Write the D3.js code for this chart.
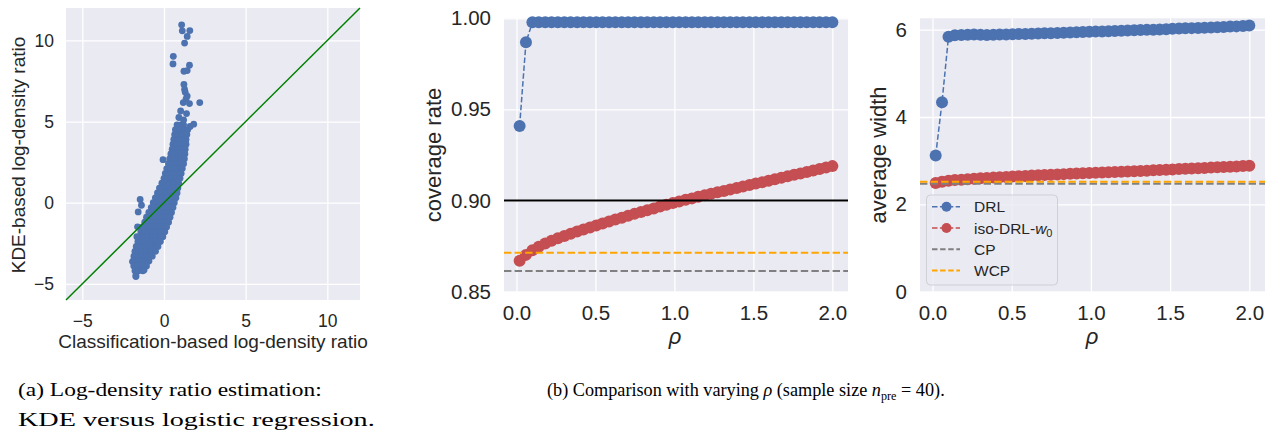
<!DOCTYPE html>
<html>
<head>
<meta charset="utf-8">
<script src="https://cdn.jsdelivr.net/npm/d3@7"></script>
<style>
  body { margin: 0; background: #fff; }
  text { font-family: "Liberation Sans", Arial, sans-serif; fill: #262626; }
</style>
</head>
<body>
<svg id="fig" width="1273" height="434"></svg>
<script>
// ---- data ----
// rho grid (50 values, 0.02 .. 2.0)
var rho = [0.020,0.060,0.101,0.141,0.182,0.222,0.262,0.303,0.343,0.384,0.424,0.465,0.505,0.545,0.586,0.626,0.667,0.707,0.747,0.788,
           0.828,0.869,0.909,0.949,0.990,1.030,1.071,1.111,1.151,1.192,1.232,1.273,1.313,1.353,1.394,1.434,1.475,1.515,1.556,1.596,
           1.636,1.677,1.717,1.758,1.798,1.838,1.879,1.919,1.960,2.000];

var covDRL = [0.9409,0.9868,0.9978,0.9978,0.9978,0.9978,0.9978,0.9978,0.9978,0.9978,0.9978,0.9978,0.9978,0.9978,0.9978,0.9978,0.9978,0.9978,0.9978,0.9978,
              0.9978,0.9978,0.9978,0.9978,0.9978,0.9978,0.9978,0.9978,0.9978,0.9978,0.9978,0.9978,0.9978,0.9978,0.9978,0.9978,0.9978,0.9978,0.9978,0.9978,
              0.9978,0.9978,0.9978,0.9978,0.9978,0.9978,0.9978,0.9978,0.9978,0.9978];
var covIso = [0.8670,0.8702,0.8727,0.8747,0.8764,0.8779,0.8793,0.8806,0.8818,0.8830,0.8841,0.8852,0.8863,0.8874,0.8885,0.8896,0.8906,0.8917,0.8927,0.8937,
              0.8947,0.8957,0.8967,0.8977,0.8986,0.8995,0.9004,0.9012,0.9021,0.9029,0.9037,0.9045,0.9053,0.9061,0.9069,0.9077,0.9085,0.9093,0.9101,0.9109,
              0.9117,0.9125,0.9133,0.9141,0.9149,0.9157,0.9165,0.9173,0.9181,0.9189];
var covTarget = 0.90, covCP = 0.8614, covWCP = 0.8714;

var widDRL = [3.12,4.34,5.84,5.87,5.88,5.885,5.89,5.885,5.88,5.885,5.89,5.89,5.895,5.90,5.90,5.905,5.91,5.915,5.92,5.925,
              5.93,5.935,5.94,5.945,5.95,5.955,5.96,5.965,5.97,5.975,5.98,5.985,5.99,5.995,6.00,6.005,6.01,6.02,6.025,6.03,
              6.035,6.04,6.045,6.05,6.055,6.06,6.07,6.075,6.085,6.095];
var widIso = [2.49,2.52,2.54,2.555,2.565,2.575,2.585,2.595,2.604,2.612,2.620,2.628,2.636,2.644,2.651,2.658,2.665,2.672,2.679,2.686,
              2.692,2.698,2.704,2.710,2.716,2.722,2.728,2.734,2.740,2.746,2.752,2.759,2.766,2.772,2.779,2.786,2.793,2.800,2.807,2.813,
              2.820,2.827,2.834,2.841,2.848,2.855,2.862,2.869,2.876,2.885];
var widCP = 2.47, widWCP = 2.52;

// scatter: dense band, one row per KDE value [y, [classification values]]
var bandRows = [
  [4.8,[0.8,1.0,1.2]], [4.5,[0.7,0.95,1.2,1.45]], [4.2,[0.65,0.9,1.15,1.4]], [3.9,[0.6,0.85,1.1,1.35]],
  [3.6,[0.55,0.8,1.05,1.35]], [3.3,[0.5,0.75,1.0,1.3]], [3.0,[0.42,0.65,0.9,1.1,1.28]], [2.7,[0.35,0.6,0.85,1.05,1.25]],
  [2.4,[0.27,0.5,0.75,1.0,1.2]], [2.1,[0.17,0.4,0.65,0.9,1.12]], [1.8,[0.08,0.3,0.55,0.8,1.05]], [1.5,[0.0,0.25,0.5,0.75,0.98]],
  [1.2,[-0.13,0.1,0.35,0.6,0.9]], [0.9,[-0.28,-0.05,0.2,0.45,0.65,0.85]], [0.6,[-0.4,-0.15,0.1,0.35,0.6,0.8]],
  [0.3,[-0.53,-0.3,-0.05,0.2,0.45,0.73]], [0.0,[-0.66,-0.4,-0.15,0.1,0.35,0.63]], [-0.3,[-0.78,-0.55,-0.3,-0.05,0.2,0.55]],
  [-0.6,[-0.93,-0.7,-0.45,-0.2,0.05,0.3,0.46]], [-0.9,[-1.07,-0.82,-0.57,-0.32,-0.07,0.18,0.37]],
  [-1.2,[-1.18,-0.93,-0.68,-0.43,-0.18,0.07,0.28]], [-1.5,[-1.3,-1.05,-0.8,-0.55,-0.3,-0.05,0.16]],
  [-1.8,[-1.42,-1.17,-0.92,-0.67,-0.42,-0.17,0.05]], [-2.1,[-1.5,-1.25,-1.0,-0.75,-0.5,-0.25,-0.07]],
  [-2.4,[-1.6,-1.35,-1.1,-0.85,-0.6,-0.35,-0.22]], [-2.7,[-1.7,-1.45,-1.2,-0.95,-0.7,-0.45,-0.37]],
  [-3.0,[-1.78,-1.55,-1.3,-1.05,-0.8,-0.52]], [-3.3,[-1.84,-1.6,-1.35,-1.1,-0.85,-0.72]],
  [-3.6,[-1.88,-1.65,-1.4,-1.15,-0.92]], [-3.9,[-1.85,-1.6,-1.35,-1.07]], [-4.2,[-1.78,-1.55,-1.3]], [-4.5,[-1.72]]
];
// isolated points [classification, KDE]
var outliers = [
  [1.08,10.96],[1.12,10.59],[1.58,10.61],[1.42,10.25],[1.26,9.84],[0.57,9.02],[0.55,8.55],[1.56,8.47],[1.22,8.10],[1.42,8.14],
  [1.22,7.29],[1.26,6.98],[1.3,6.8],[1.42,6.57],[1.35,6.4],[1.18,6.17],[1.56,6.11],[2.19,6.17],[1.02,5.65],[1.38,5.49],
  [0.91,5.25],[1.2,5.1],[1.82,4.84],[1.6,4.7],[-0.06,2.65],[-1.46,0.20],[-1.38,-0.16],[-1.58,-0.57],[-1.62,-1.49],[-1.66,-2.10],
  [-1.22,-4.15],[-1.93,-3.63],[-1.72,-4.55]
];

var scatterTicks = [-5, 0, 5, 10];
var rhoTicks = [0, 0.5, 1.0, 1.5, 2.0];
var covTicks = [0.85, 0.90, 0.95, 1.00];
var widTicks = [0, 2, 4, 6];

var blue = "#4c72b0", red = "#c44e52";

var svg = d3.select("#fig");

// one seaborn-darkgrid style axes
function panel(o) {
  var x = d3.scaleLinear().domain(o.xd).range([o.l, o.r]);
  var y = d3.scaleLinear().domain(o.yd).range([o.b, o.t]);
  var g = svg.append("g");
  g.append("rect").attr("x", o.l).attr("y", o.t)
    .attr("width", o.r - o.l).attr("height", o.b - o.t).attr("fill", "#eaeaf2");
  var gx = g.append("g").attr("transform", "translate(0," + o.b + ")")
    .call(d3.axisBottom(x).tickValues(o.xt).tickFormat(o.xf)
      .tickSizeInner(-(o.b - o.t)).tickSizeOuter(0).tickPadding(o.pb));
  var gy = g.append("g").attr("transform", "translate(" + o.l + ",0)")
    .call(d3.axisLeft(y).tickValues(o.yt).tickFormat(o.yf)
      .tickSizeInner(-(o.r - o.l)).tickSizeOuter(0).tickPadding(o.pl));
  [gx, gy].forEach(function (a) {
    a.attr("font-family", null).attr("font-size", null);
    a.select(".domain").remove();
    a.selectAll(".tick line").attr("stroke", "#fff").attr("stroke-width", 1.3);
    a.selectAll(".tick text").attr("fill", "#262626").style("font-size", o.fs + "px");
  });
  var plot = g.append("g");
  return { x: x, y: y, g: plot };
}

function yLabel(txt, cx, cy, fs) {
  svg.append("text").attr("transform", "translate(" + cx + "," + cy + ") rotate(-90)")
    .attr("text-anchor", "middle").attr("dy", "0.35em").style("font-size", fs + "px").text(txt);
}

// ---------- (a) scatter ----------
var pa = panel({ l: 66, r: 360, t: 8, b: 300, xd: [-6, 12], yd: [-6, 12],
  xt: scatterTicks, yt: scatterTicks, xf: d3.format("d"), yf: d3.format("d"),
  pb: 15, pl: 12, fs: 17.5 });

var pts = [];
bandRows.forEach(function (r) { r[1].forEach(function (v) { pts.push([v, r[0]]); }); });
outliers.forEach(function (p) { pts.push(p); });

pa.g.selectAll("circle").data(pts).enter().append("circle")
  .attr("cx", function (d) { return pa.x(d[0]); })
  .attr("cy", function (d) { return pa.y(d[1]); })
  .attr("r", 3.4).attr("fill", blue);

pa.g.append("line")
  .attr("x1", pa.x(-6)).attr("y1", pa.y(-6)).attr("x2", pa.x(12)).attr("y2", pa.y(12))
  .attr("stroke", "#008000").attr("stroke-width", 1.5);

svg.append("text").attr("x", 213).attr("y", 348).attr("text-anchor", "middle")
  .style("font-size", "19px").text("Classification-based log-density ratio");
yLabel("KDE-based log-density ratio", 18, 155, 19);

// ---------- (b) helpers ----------
function series(p, xs, ys, color) {
  var pairs = xs.map(function (v, i) { return [v, ys[i]]; });
  p.g.append("path").datum(pairs)
    .attr("d", d3.line().x(function (d) { return p.x(d[0]); }).y(function (d) { return p.y(d[1]); }))
    .attr("fill", "none").attr("stroke", color).attr("stroke-width", 1.5).attr("stroke-dasharray", "5.5,2.4");
  p.g.append("g").selectAll("circle").data(pairs).enter().append("circle")
    .attr("cx", function (d) { return p.x(d[0]); })
    .attr("cy", function (d) { return p.y(d[1]); })
    .attr("r", 6).attr("fill", color);
}
function hline(p, v, color, dashed) {
  var xd = p.x.domain();
  p.g.append("line").attr("x1", p.x(xd[0])).attr("x2", p.x(xd[1]))
    .attr("y1", p.y(v)).attr("y2", p.y(v))
    .attr("stroke", color).attr("stroke-width", 2)
    .attr("stroke-dasharray", dashed ? "7.4,3.2" : null);
}
function rhoLabel(cx) {
  svg.append("text").attr("x", cx).attr("y", 344).attr("text-anchor", "middle")
    .style("font-size", "22px").style("font-style", "italic").text("ρ");
}

// ---------- (b) coverage ----------
var pb = panel({ l: 504, r: 848, t: 18.3, b: 291.7, xd: [-0.079, 2.099], yd: [0.85, 1.00],
  xt: rhoTicks, yt: covTicks, xf: d3.format(".1f"), yf: d3.format(".2f"),
  pb: 14, pl: 13, fs: 20.5 });
series(pb, rho, covDRL, blue);
series(pb, rho, covIso, red);
hline(pb, covCP, "#808080", true);
hline(pb, covWCP, "#ffa500", true);
hline(pb, covTarget, "#000", false);
yLabel("coverage rate", 433, 155, 22);
rhoLabel(675);

// ---------- (b) width ----------
var pc = panel({ l: 920, r: 1265, t: 18.3, b: 291.7, xd: [-0.079, 2.099], yd: [0, 6.26],
  xt: rhoTicks, yt: widTicks, xf: d3.format(".1f"), yf: d3.format("d"),
  pb: 14, pl: 13, fs: 20.5 });
series(pc, rho, widDRL, blue);
series(pc, rho, widIso, red);
hline(pc, widCP, "#808080", true);
hline(pc, widWCP, "#ffa500", true);
yLabel("average width", 878, 155, 22);
rhoLabel(1092);

// legend
var lg = svg.append("g");
lg.append("rect").attr("x", 926.5).attr("y", 195).attr("width", 131).attr("height", 90)
  .attr("rx", 4).attr("fill", "#eaeaf2").attr("fill-opacity", 0.8)
  .attr("stroke", "#cfcfd6").attr("stroke-width", 1);
var legItems = [
  { name: "DRL", color: blue, marker: true, lw: 1.5, dash: "5.5,2.4" },
  { name: "iso", color: red, marker: true, lw: 1.5, dash: "5.5,2.4" },
  { name: "CP", color: "#808080", marker: false, lw: 2, dash: "5.5,2.6" },
  { name: "WCP", color: "#ffa500", marker: false, lw: 2, dash: "5.5,2.6" }
];
legItems.forEach(function (d, i) {
  var yy = 206.7 + i * 21.3;
  lg.append("line").attr("x1", 932).attr("x2", 960).attr("y1", yy).attr("y2", yy)
    .attr("stroke", d.color).attr("stroke-width", d.lw).attr("stroke-dasharray", d.dash);
  if (d.marker) lg.append("circle").attr("cx", 946.5).attr("cy", yy).attr("r", 5).attr("fill", d.color);
  var t = lg.append("text").attr("x", 974).attr("y", yy).attr("dy", "0.36em").style("font-size", "15.5px");
  if (d.name === "iso") {
    t.append("tspan").text("iso-DRL-");
    t.append("tspan").style("font-style", "italic").text("w");
    t.append("tspan").attr("dy", "0.3em").style("font-size", "11px").text("0");
  } else {
    t.text(d.name);
  }
});

// ---------- captions (serif, scaled horizontally to the reference widths) ----------
function caption(x, y, w, build) {
  var t = svg.append("text").attr("x", 0).attr("y", 0)
    .style("font-family", "'Liberation Serif', 'DejaVu Serif', serif").style("fill", "#000")
    .style("font-size", "19.5px");
  build(t);
  var nat = t.node().getComputedTextLength();
  t.attr("transform", "translate(" + x + "," + y + ") scale(" + (w / nat) + ",1)");
}
caption(18, 396, 304, function (t) { t.text("(a) Log-density ratio estimation:"); });
caption(18, 426, 357, function (t) { t.text("KDE versus logistic regression."); });
caption(547, 396, 398, function (t) {
  t.append("tspan").text("(b) Comparison with varying ");
  t.append("tspan").style("font-style", "italic").text("ρ");
  t.append("tspan").text(" (sample size ");
  t.append("tspan").style("font-style", "italic").text("n");
  t.append("tspan").attr("dy", "4").style("font-size", "13px").text("pre");
  t.append("tspan").attr("dy", "-4").text(" = 40).");
});
</script>
</body>
</html>
